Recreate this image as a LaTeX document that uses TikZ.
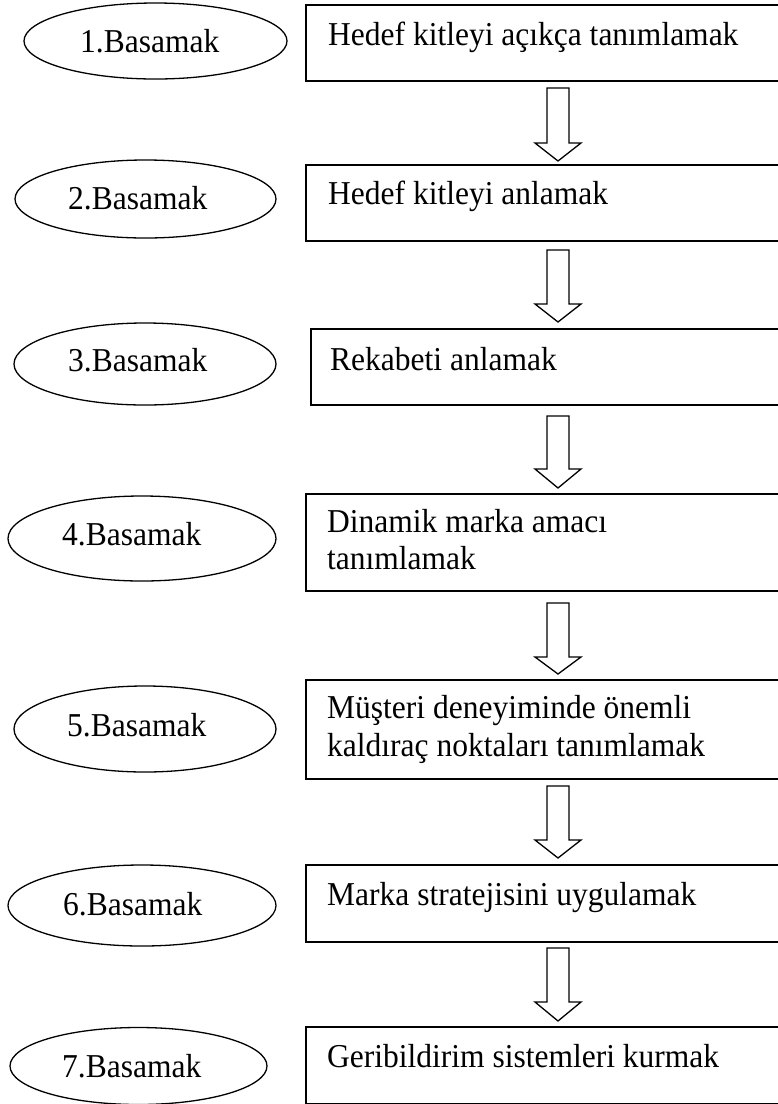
\documentclass[tikz,border=0pt]{standalone}
\usepackage{fontspec}
\setmainfont{Liberation Serif}
\usetikzlibrary{shapes.geometric}
\newcommand{\tallTxt}[1]{\scalebox{1}[1.06]{#1}}
\begin{document}
\begin{tikzpicture}[x=1pt,y=-1pt,
  ell/.style={draw, ellipse, line width=1.3pt, inner sep=0pt},
  stepbox/.style={draw, line width=1.6pt, inner sep=0pt, anchor=north west},
  lbl/.style={anchor=base west, inner sep=0pt, font=\fontsize{31.5}{37}\selectfont},
  barrowstyle/.style={draw, line width=1.3pt, line join=miter, fill=white}]
\useasboundingbox (0,0) rectangle (778,1104);
\clip (0,0) rectangle (778,1104);

% ellipses
\node[ell, minimum width=263pt, minimum height=76pt] (e1) at (155.5,41) {};
\node[ell, minimum width=261pt, minimum height=78pt] (e2) at (145.5,199) {};
\node[ell, minimum width=262pt, minimum height=82pt] (e3) at (145,364) {};
\node[ell, minimum width=268pt, minimum height=85pt] (e4) at (142,538.5) {};
\node[ell, minimum width=262pt, minimum height=86pt] (e5) at (145,729) {};
\node[ell, minimum width=268pt, minimum height=81pt] (e6) at (142,905.5) {};
\node[ell, minimum width=257pt, minimum height=77pt] (e7) at (138.5,1066) {};

\node[lbl] (l1) at (80,52) {\tallTxt{1.Basamak}};
\node[lbl] (l2) at (68,209) {\tallTxt{2.Basamak}};
\node[lbl] (l3) at (68,371) {\tallTxt{3.Basamak}};
\node[lbl] (l4) at (62,545) {\tallTxt{4.Basamak}};
\node[lbl] (l5) at (67,736) {\tallTxt{5.Basamak}};
\node[lbl] (l6) at (63,915) {\tallTxt{6.Basamak}};
\node[lbl] (l7) at (62,1077) {\tallTxt{7.Basamak}};

% boxes
\node[stepbox, minimum width=485pt, minimum height=76pt] (b1) at (305,4) {};
\node[stepbox, minimum width=485pt, minimum height=76pt] (b2) at (305,164) {};
\node[stepbox, minimum width=480pt, minimum height=76pt] (b3) at (310,328) {};
\node[stepbox, minimum width=485pt, minimum height=97pt] (b4) at (305,493) {};
\node[stepbox, minimum width=485pt, minimum height=99pt] (b5) at (305,679) {};
\node[stepbox, minimum width=485pt, minimum height=77pt] (b6) at (305,864) {};
\node[stepbox, minimum width=485pt, minimum height=77pt] (b7) at (305,1026) {};

\node[lbl] (t1) at (328,45) {\tallTxt{Hedef kitleyi açıkça tanımlamak}};
\node[lbl] (t2) at (328,204) {\tallTxt{Hedef kitleyi anlamak}};
\node[lbl] (t3) at (330,370) {\tallTxt{Rekabeti anlamak}};
\node[lbl] (t4a) at (327,532) {\tallTxt{Dinamik marka amacı}};
\node[lbl] (t4b) at (327,569) {\tallTxt{tanımlamak}};
\node[lbl] (t5a) at (327,718) {\tallTxt{Müşteri deneyiminde önemli}};
\node[lbl] (t5b) at (327,756) {\tallTxt{kaldıraç noktaları tanımlamak}};
\node[lbl] (t6) at (327,905) {\tallTxt{Marka stratejisini uygulamak}};
\node[lbl] (t7) at (327,1067) {\tallTxt{Geribildirim sistemleri kurmak}};

% block arrows
\foreach \i/\t/\h/\p in {1/88/143/161, 2/250/304/322, 3/416/469/488, 4/603/657/674, 5/786/840/858, 6/948/1002/1021}{
  \coordinate (a\i) at (558,\t);
  \draw[barrowstyle] (547,\t) -- (569,\t) -- (569,\h) -- (581,\h) -- (558,\p) -- (535,\h) -- (547,\h) -- cycle;
}
\end{tikzpicture}
\end{document}
